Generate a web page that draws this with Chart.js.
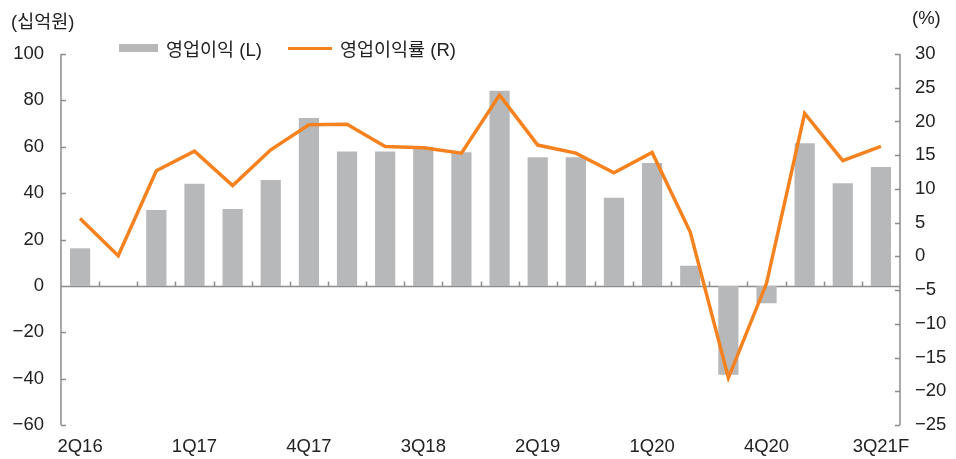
<!DOCTYPE html>
<html>
<head>
<meta charset="utf-8">
<script src="https://cdn.jsdelivr.net/npm/chart.js@4/dist/chart.umd.min.js"></script>
<style>
  html, body { margin: 0; padding: 0; background: #fff; }
  .wrap { position: relative; width: 956px; height: 459px; font-family: "Liberation Sans", "Noto Sans CJK KR", sans-serif; color: #222; }
  canvas { position: absolute; left: 0; top: 0; }
  .unit { position: absolute; top: 7px; font-size: 18.5px; }
  .leg { position: absolute; top: 35px; font-size: 18.5px; display: flex; align-items: center; white-space: nowrap; }
  .leg i { display: inline-block; margin-right: 8px; }
</style>
</head>
<body>
<div class="wrap">
  <canvas id="c" width="956" height="459"></canvas>
  <span class="unit" style="left:11px">(십억원)</span>
  <span class="unit" style="left:912px">(%)</span>
  <span class="leg" style="left:119px"><i style="width:39px;height:8px;background:#b7b8ba"></i>영업이익 (L)</span>
  <span class="leg" style="left:288px"><i style="width:44px;height:3px;background:#f5821f"></i>영업이익률 (R)</span>
</div>
<script>
const quarters = ['2Q16', '3Q16', '4Q16', '1Q17', '2Q17', '3Q17', '4Q17', '1Q18', '2Q18', '3Q18', '4Q18',
  '1Q19', '2Q19', '3Q19', '4Q19', '1Q20', '2Q20', '3Q20', '4Q20', '1Q21', '2Q21', '3Q21F'];
const opProfit = [16.2, null, 32.7, 44, 33.2, 45.7, 72.4, 57.9, 57.9, 60, 57.6,
  84.2, 55.5, 55.5, 38, 53, 8.7, -38.3, -7.5, 61.5, 44.3, 51.3];
const opMargin = [5.6, 0.1, 12.7, 15.6, 10.5, 15.8, 19.5, 19.6, 16.3, 16.1, 15.3,
  23.9, 16.5, 15.3, 12.4, 15.4, 3.6, -18, -4, 21.2, 14.2, 16.3];

const AXIS = '#8c8c8c';
const tickFont = { family: '"Liberation Sans", Arial, sans-serif', size: 18.5 };
const minus = (v) => String(v).replace('-', '\u2212');

// axis lines, zero line and inward tick marks
const axesPlugin = {
  id: 'axes',
  beforeDatasetsDraw(chart) {
    const { ctx, chartArea: a, scales: { x, yL, yR } } = chart;
    const zero = Math.round(yL.getPixelForValue(0)) + 0.5;
    const half = (x.getPixelForValue(1) - x.getPixelForValue(0)) / 2;
    ctx.save();
    ctx.strokeStyle = AXIS;
    ctx.lineWidth = 1.5;
    ctx.beginPath();
    ctx.moveTo(a.left, a.top); ctx.lineTo(a.left, a.bottom);
    ctx.moveTo(a.right, a.top); ctx.lineTo(a.right, a.bottom);
    ctx.moveTo(a.left, zero); ctx.lineTo(a.right, zero);
    yL.ticks.forEach((t) => {
      const y = Math.round(yL.getPixelForValue(t.value)) + 0.5;
      ctx.moveTo(a.left, y); ctx.lineTo(a.left + 5, y);
    });
    yR.ticks.forEach((t) => {
      const y = Math.round(yR.getPixelForValue(t.value)) + 0.5;
      ctx.moveTo(a.right, y); ctx.lineTo(a.right - 5, y);
    });
    for (let i = 1; i < quarters.length; i++) {
      const px = Math.round(x.getPixelForValue(i) - half) + 0.5;
      ctx.moveTo(px, zero); ctx.lineTo(px, zero - 5);
    }
    ctx.stroke();
    ctx.restore();
  },
};

new Chart(document.getElementById('c'), {
  type: 'bar',
  data: {
    labels: quarters,
    datasets: [
      {
        type: 'line', label: '영업이익률 (R)', data: opMargin, yAxisID: 'yR',
        borderColor: '#f5821f', borderWidth: 3.5, pointRadius: 0, tension: 0, order: 0,
      },
      {
        type: 'bar', label: '영업이익 (L)', data: opProfit, yAxisID: 'yL',
        backgroundColor: '#b7b8ba', barPercentage: 0.53, categoryPercentage: 1, order: 1,
      },
    ],
  },
  options: {
    responsive: false,
    animation: false,
    layout: { padding: { top: 54, left: 0, right: 0, bottom: 0 } },
    plugins: { legend: { display: false }, tooltip: { enabled: false } },
    scales: {
      x: {
        grid: { display: false, drawTicks: false },
        border: { display: false },
        ticks: {
          autoSkip: false, maxRotation: 0, padding: 11, color: '#222', font: tickFont,
          callback: (v, i) => (i % 3 === 0 ? quarters[i] : ''),
        },
        afterFit: (s) => { s.height = 34; },
      },
      yL: {
        position: 'left', min: -60, max: 100,
        grid: { display: false, drawTicks: false },
        border: { display: false },
        ticks: { stepSize: 20, padding: 17, color: '#222', font: tickFont, callback: minus },
        afterFit: (s) => { s.width = 61; },
      },
      yR: {
        position: 'right', min: -25, max: 30,
        grid: { display: false, drawTicks: false },
        border: { display: false },
        ticks: { stepSize: 5, padding: 15, color: '#222', font: tickFont, callback: minus },
        afterFit: (s) => { s.width = 56; },
      },
    },
  },
  plugins: [axesPlugin],
});
</script>
</body>
</html>
